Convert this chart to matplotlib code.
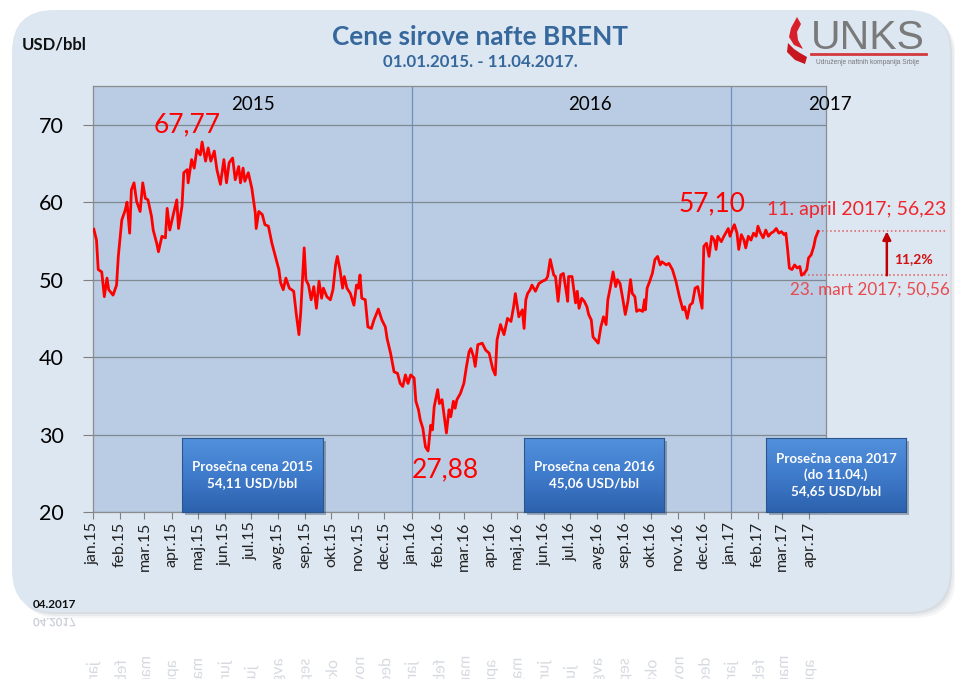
import matplotlib
matplotlib.use('Agg')
import matplotlib.pyplot as plt
import matplotlib.transforms as mtransforms
import numpy as np
import pandas as pd
from matplotlib.patches import FancyBboxPatch, Rectangle, PathPatch, Polygon
from matplotlib.textpath import TextPath
from matplotlib.font_manager import FontProperties
from matplotlib.colors import LinearSegmentedColormap
from matplotlib.lines import Line2D

plt.rcParams['font.family'] = ['Lato', 'DejaVu Sans']

# Brent price, USD/bbl
dates = [
    '2015-01-02', '2015-01-05', '2015-01-07', '2015-01-11', '2015-01-14', '2015-01-17', '2015-01-19', '2015-01-24', '2015-01-28', '2015-01-30',
    '2015-02-03', '2015-02-07', '2015-02-09', '2015-02-12', '2015-02-14', '2015-02-17', '2015-02-20', '2015-02-24', '2015-02-27',
    '2015-03-02', '2015-03-05', '2015-03-09', '2015-03-11', '2015-03-15', '2015-03-17', '2015-03-21', '2015-03-25', '2015-03-27', '2015-03-30',
    '2015-04-03', '2015-04-07', '2015-04-09', '2015-04-13', '2015-04-15', '2015-04-19', '2015-04-20', '2015-04-24', '2015-04-27', '2015-04-30',
    '2015-05-04', '2015-05-06', '2015-05-10', '2015-05-13', '2015-05-16', '2015-05-20', '2015-05-23', '2015-05-27', '2015-05-31',
    '2015-06-03', '2015-06-06', '2015-06-10', '2015-06-13', '2015-06-17', '2015-06-19', '2015-06-22', '2015-06-24', '2015-06-28',
    '2015-07-02', '2015-07-06', '2015-07-07', '2015-07-10', '2015-07-14', '2015-07-17', '2015-07-21', '2015-07-25', '2015-07-29',
    '2015-08-02', '2015-08-04', '2015-08-07', '2015-08-10', '2015-08-14', '2015-08-19', '2015-08-22', '2015-08-25', '2015-08-27', '2015-08-29', '2015-08-31',
    '2015-09-02', '2015-09-05', '2015-09-08', '2015-09-11', '2015-09-14', '2015-09-17', '2015-09-20', '2015-09-22', '2015-09-26', '2015-09-30',
    '2015-10-03', '2015-10-06', '2015-10-08', '2015-10-11', '2015-10-14', '2015-10-16', '2015-10-19', '2015-10-23', '2015-10-27', '2015-10-30',
    '2015-11-01', '2015-11-03', '2015-11-05', '2015-11-09', '2015-11-12', '2015-11-16', '2015-11-19', '2015-11-24', '2015-11-28',
    '2015-12-02', '2015-12-04', '2015-12-08', '2015-12-12', '2015-12-16', '2015-12-19', '2015-12-22', '2015-12-25', '2015-12-28', '2015-12-31',
    '2016-01-04', '2016-01-06', '2016-01-09', '2016-01-11', '2016-01-14', '2016-01-17', '2016-01-20', '2016-01-23', '2016-01-25', '2016-01-27', '2016-01-31',
    '2016-02-02', '2016-02-05', '2016-02-07', '2016-02-10', '2016-02-13', '2016-02-15', '2016-02-18', '2016-02-20', '2016-02-22', '2016-02-26',
    '2016-03-01', '2016-03-04', '2016-03-07', '2016-03-09', '2016-03-12', '2016-03-14', '2016-03-17', '2016-03-22', '2016-03-26', '2016-03-30',
    '2016-04-03', '2016-04-06', '2016-04-08', '2016-04-12', '2016-04-16', '2016-04-20', '2016-04-24', '2016-04-27', '2016-04-29',
    '2016-05-03', '2016-05-07', '2016-05-09', '2016-05-11', '2016-05-13', '2016-05-16', '2016-05-18', '2016-05-22', '2016-05-26', '2016-05-30',
    '2016-06-03', '2016-06-05', '2016-06-08', '2016-06-12', '2016-06-14', '2016-06-17', '2016-06-20', '2016-06-23', '2016-06-26', '2016-06-28', '2016-06-29',
    '2016-07-03', '2016-07-07', '2016-07-09', '2016-07-11', '2016-07-14', '2016-07-17', '2016-07-20', '2016-07-22', '2016-07-25', '2016-07-27', '2016-07-30',
    '2016-08-02', '2016-08-05', '2016-08-08', '2016-08-11', '2016-08-13', '2016-08-16', '2016-08-19', '2016-08-22', '2016-08-24', '2016-08-27', '2016-08-30',
    '2016-09-02', '2016-09-05', '2016-09-08', '2016-09-10', '2016-09-13', '2016-09-15', '2016-09-18', '2016-09-22', '2016-09-24', '2016-09-25', '2016-09-27', '2016-09-30',
    '2016-10-03', '2016-10-06', '2016-10-09', '2016-10-12', '2016-10-14', '2016-10-19', '2016-10-22', '2016-10-26', '2016-10-30',
    '2016-11-03', '2016-11-07', '2016-11-09', '2016-11-12', '2016-11-15', '2016-11-18', '2016-11-21', '2016-11-24', '2016-11-27', '2016-11-29',
    '2016-12-01', '2016-12-04', '2016-12-07', '2016-12-10', '2016-12-13', '2016-12-15', '2016-12-17', '2016-12-21', '2016-12-24', '2016-12-26', '2016-12-29', '2016-12-31',
    '2017-01-03', '2017-01-05', '2017-01-08', '2017-01-10', '2017-01-13', '2017-01-16', '2017-01-18', '2017-01-21', '2017-01-24', '2017-01-27', '2017-01-30',
    '2017-02-01', '2017-02-04', '2017-02-07', '2017-02-10', '2017-02-13', '2017-02-16', '2017-02-19', '2017-02-22', '2017-02-25', '2017-02-28',
    '2017-03-03', '2017-03-05', '2017-03-07', '2017-03-09', '2017-03-12', '2017-03-15', '2017-03-18', '2017-03-21', '2017-03-23', '2017-03-26', '2017-03-29', '2017-03-31',
    '2017-04-03', '2017-04-06', '2017-04-08', '2017-04-11',
]
prices = [
    56.5, 55.1, 51.3, 51.0, 47.8, 50.2, 48.7, 48.0, 49.3, 53.0,
    57.7, 59.0, 60.0, 56.0, 61.6, 62.5, 60.1, 58.8, 62.5,
    60.5, 60.3, 58.2, 56.4, 54.7, 53.6, 55.6, 55.4, 59.2, 56.4,
    58.4, 60.3, 56.6, 59.5, 63.8, 64.2, 62.5, 65.5, 64.4, 66.8,
    66.1, 67.77, 65.3, 67.0, 65.3, 66.6, 64.2, 62.3, 65.5,
    62.5, 65.1, 65.7, 62.9, 64.6, 62.5, 64.4, 62.7, 63.8,
    61.8, 58.6, 56.6, 58.8, 58.4, 57.1, 56.9, 54.7, 53.0,
    51.3, 49.6, 48.7, 50.2, 48.9, 48.5, 45.5, 42.9, 45.7, 50.0, 54.1,
    50.0, 49.3, 47.4, 49.1, 46.3, 49.8, 47.6, 48.9, 47.8, 47.4,
    48.7, 51.9, 53.0, 51.3, 48.9, 50.4, 48.9, 48.2, 46.7, 49.3,
    48.9, 50.6, 47.6, 47.4, 43.9, 43.7, 44.8, 46.2, 44.8,
    43.9, 42.4, 40.5, 38.1, 37.9, 36.6, 36.2, 37.7, 36.6, 37.7,
    37.3, 34.3, 33.2, 31.9, 30.8, 28.4, 27.88, 31.2, 30.6, 33.6, 35.8,
    34.0, 34.5, 32.8, 30.2, 33.2, 32.3, 34.3, 33.4, 34.5, 35.3,
    36.6, 38.8, 40.7, 41.1, 40.1, 38.8, 41.6, 41.8, 40.9, 40.5,
    38.5, 37.7, 42.2, 44.2, 42.9, 45.0, 44.6, 46.5, 48.2,
    45.2, 46.1, 43.7, 47.4, 48.2, 48.7, 49.3, 48.5, 49.5, 49.8,
    50.0, 50.4, 52.6, 50.6, 50.4, 47.2, 50.6, 50.8, 48.7, 47.2, 50.4,
    50.4, 47.0, 48.5, 46.3, 47.6, 47.2, 46.5, 45.5, 44.8, 42.6, 42.2,
    41.8, 43.9, 45.2, 44.2, 47.4, 49.1, 51.0, 49.1, 50.0, 49.5, 47.6,
    45.5, 47.2, 50.0, 48.2, 47.8, 45.9, 46.1, 45.9, 47.4, 46.1, 48.9, 49.8,
    50.8, 52.6, 53.0, 51.9, 52.3, 51.9, 52.1, 51.3, 49.8,
    47.8, 46.1, 46.5, 45.0, 46.7, 47.0, 48.9, 49.1, 47.4, 46.3,
    54.3, 54.7, 53.0, 55.6, 55.1, 53.9, 55.6, 54.9, 55.6, 56.0, 56.6, 55.6,
    56.6, 57.10, 56.0, 53.9, 55.8, 55.1, 54.1, 55.6, 55.1, 56.0, 55.6,
    56.9, 56.0, 55.4, 56.4, 55.6, 56.0, 56.2, 56.6, 56.0, 56.2,
    55.8, 56.0, 53.9, 51.5, 51.3, 51.9, 51.5, 51.7, 50.56, 50.8, 51.3, 52.8,
    53.2, 54.3, 55.4, 56.23,
]

month_names = ['jan', 'feb', 'mar', 'apr', 'maj', 'jun', 'jul', 'avg', 'sep', 'okt', 'nov', 'dec']
month_ticks = pd.date_range('2015-01-01', '2017-04-01', freq='MS')
tick_labels = ['%s.%s' % (month_names[d.month - 1], str(d.year)[2:]) for d in month_ticks]
year_starts = ['2016-01-01', '2017-01-01']

box_texts = [
    'Prosečna cena 2015\n54,11 USD/bbl',
    'Prosečna cena 2016\n45,06 USD/bbl',
    'Prosečna cena 2017\n(do 11.04.)\n54,65 USD/bbl',
]

W, H = 955, 679
fig = plt.figure(figsize=(W / 100, H / 100), dpi=100)
fig.patch.set_facecolor('white')
px = mtransforms.Affine2D().scale(1 / 100) + fig.dpi_scale_trans   # pixel coords, y up


def fx(x):
    return x / W


def fy(y):
    return 1 - y / H


# background panel with shadow and reflection
for off, a in [(6, 0.06), (4, 0.08), (2, 0.1)]:
    fig.add_artist(FancyBboxPatch((12 + off, H - 612 - off), 938, 602,
                                  boxstyle='round,pad=0,rounding_size=42',
                                  transform=px, facecolor='#5a6b80', edgecolor='none',
                                  alpha=a, zorder=-12))
fig.add_artist(FancyBboxPatch((12, H - 612), 938, 602, boxstyle='round,pad=0,rounding_size=42',
                              transform=px, facecolor='#dde7f2', edgecolor='none', zorder=-10))
fig.add_artist(FancyBboxPatch((14, -600), 934, 1214 - H, boxstyle='round,pad=0,rounding_size=42',
                              transform=px, facecolor='#f2f5fa', edgecolor='none', zorder=-11))

# main axes
ax = fig.add_axes([fx(93), fy(512), fx(826) - fx(93), (512 - 86) / H])
ax.set_facecolor('#b9cce4')
x = pd.to_datetime(dates)
ax.plot(x, prices, color='#ff0000', lw=2.0, solid_joinstyle='round', zorder=3)
ax.set_xlim(pd.Timestamp('2015-01-01'), pd.Timestamp('2017-04-20'))
ax.set_ylim(20, 75)
ax.set_yticks([20, 30, 40, 50, 60, 70])
ax.yaxis.grid(True, color='#808891', lw=0.9)
ax.set_axisbelow(True)
for d in year_starts:
    ax.axvline(pd.Timestamp(d), color='#6f8fbd', lw=0.9, zorder=2)
ax.set_xticks(month_ticks)
ax.set_xticklabels(tick_labels, rotation=90, fontsize=11.5, color='#222222')
ax.tick_params(axis='x', direction='out', length=5, color='#808080', pad=2)
ax.tick_params(axis='y', direction='out', length=7, color='#808080', pad=14, labelsize=15.5)
for s in ax.spines.values():
    s.set_color('#8c8c8c')
    s.set_linewidth(0.9)

# year labels
fig.text(fx(253), fy(104), '2015', ha='center', va='center', fontsize=13.5)
fig.text(fx(590), fy(104), '2016', ha='center', va='center', fontsize=13.5)
fig.text(fx(830), fy(105), '2017', ha='center', va='center', fontsize=13.5)

# value labels
red = '#ff0000'
fig.text(fx(187), fy(125), '67,77', ha='center', va='center', fontsize=19, color=red)
fig.text(fx(445), fy(470), '27,88', ha='center', va='center', fontsize=19, color=red)
fig.text(fx(712), fy(204), '57,10', ha='center', va='center', fontsize=19, color=red)
fig.text(fx(857), fy(209), '11. april 2017; 56,23', ha='center', va='center', fontsize=14, color='#f0242a')
fig.text(fx(870), fy(290), '23. mart 2017; 50,56', ha='center', va='center', fontsize=12.3, color='#e84a4e')
fig.text(fx(913), fy(259), '11,2%', ha='center', va='center', fontsize=10, color='#d01010', weight='bold')

trans = mtransforms.blended_transform_factory(ax.transAxes, ax.transData)
ax.plot([0.989, 1.165], [56.23, 56.23], transform=trans, clip_on=False, ls=':', color='#e05a5a', lw=1.1)
ax.plot([0.965, 1.165], [50.56, 50.56], transform=trans, clip_on=False, ls=':', color='#e05a5a', lw=1.1)
ax.annotate('', xy=(1.083, 56.23), xytext=(1.083, 50.56), xycoords=trans, textcoords=trans,
            arrowprops=dict(arrowstyle='-|>', color='#c00000', lw=1.8, mutation_scale=12,
                            shrinkA=0, shrinkB=0), annotation_clip=False)

# average price boxes
cmap = LinearSegmentedColormap.from_list('box', ['#2d62ad', '#3f7bcb', '#5291dc'])
grad = np.linspace(0, 1, 100).reshape(-1, 1)
boxes = [(182, 323), (524, 664), (766, 906)]
for (x0, x1), txt in zip(boxes, box_texts):
    fig.add_artist(Rectangle((x0 + 3, H - 512 - 3), x1 - x0, 74, transform=px,
                             facecolor='#1c3556', alpha=0.35, edgecolor='none', zorder=5))
    bax = fig.add_axes([fx(x0), fy(512), fx(x1) - fx(x0), 74 / H], zorder=6)
    bax.imshow(grad, aspect='auto', cmap=cmap, extent=[0, 1, 0, 1], origin='lower')
    bax.set_xlim(0, 1)
    bax.set_ylim(0, 1)
    for s in bax.spines.values():
        s.set_color('#2c558e')
    bax.set_xticks([])
    bax.set_yticks([])
    bax.text(0.5, 0.5, txt, ha='center', va='center', fontsize=9.6, color='white',
             weight='bold', linespacing=1.35, transform=bax.transAxes)

# titles
blue = '#36689c'
fig.text(fx(480), fy(37), 'Cene sirove nafte BRENT', ha='center', va='center',
         fontsize=18.8, weight='bold', color=blue)
fig.text(fx(480), fy(62), '01.01.2015. - 11.04.2017.', ha='center', va='center',
         fontsize=12.2, weight='bold', color=blue)
fig.text(fx(22), fy(45), 'USD/bbl', ha='left', va='center', fontsize=12, weight='bold', color='#111111')
fig.text(fx(33), fy(604), '04.2017', ha='left', va='center', fontsize=8.5, weight='bold', color='#111111')

# logo
fig.add_artist(Polygon([(797, H - 17), (791, H - 28), (789, H - 37), (794, H - 45), (803, H - 49),
                        (798, H - 40), (797, H - 32), (801, H - 24)], closed=True, transform=px,
                       facecolor='#d8202a', edgecolor='none'))
fig.add_artist(Polygon([(788, H - 43), (787, H - 52), (795, H - 60), (805, H - 64), (807, H - 57),
                        (800, H - 53), (794, H - 49)], closed=True, transform=px,
                       facecolor='#c8161f', edgecolor='none'))
fig.text(fx(868), fy(38), 'UNKS', ha='center', va='center', fontsize=29.5, color='#7a7a7a',
         family=['Liberation Sans', 'DejaVu Sans'])
fig.add_artist(Line2D([811, 926], [H - 54, H - 54], transform=px, color='#d33a3e', lw=2))
fig.text(fx(868), fy(62), 'Udruženje naftnih kompanija Srbije', ha='center', va='center',
         fontsize=4.8, color='#777777', family=['Liberation Sans', 'DejaVu Sans'])

# reflection of the bottom labels
mirror_y = H - 613


def mirrored(s, tr, size, weight='normal', color='#d6dae0'):
    tp = TextPath((0, 0), s, size=size, prop=FontProperties(family=['Lato', 'DejaVu Sans'], weight=weight))
    t = tr + mtransforms.Affine2D().scale(1, -1).translate(0, 2 * mirror_y) + px
    fig.add_artist(PathPatch(tp, transform=t, facecolor=color, edgecolor='none', zorder=-9))
    return tp


fig.canvas.draw()
for lab in ax.get_xticklabels():
    bb = lab.get_window_extent()
    s = lab.get_text()
    tp = TextPath((0, 0), s, size=16, prop=FontProperties(family=['Lato', 'DejaVu Sans']))
    e = tp.get_extents()
    tr = (mtransforms.Affine2D().translate(-e.x1, -(e.y0 + e.y1) / 2).rotate_deg(90)
          .translate((bb.x0 + bb.x1) / 2, bb.y1))
    mirrored(s, tr, 16)
mirrored('04.2017', mtransforms.Affine2D().translate(33, H - 608), 11.5, weight='bold', color='#cdd1d8')

fig.savefig('out.png', dpi=100, facecolor='white')
